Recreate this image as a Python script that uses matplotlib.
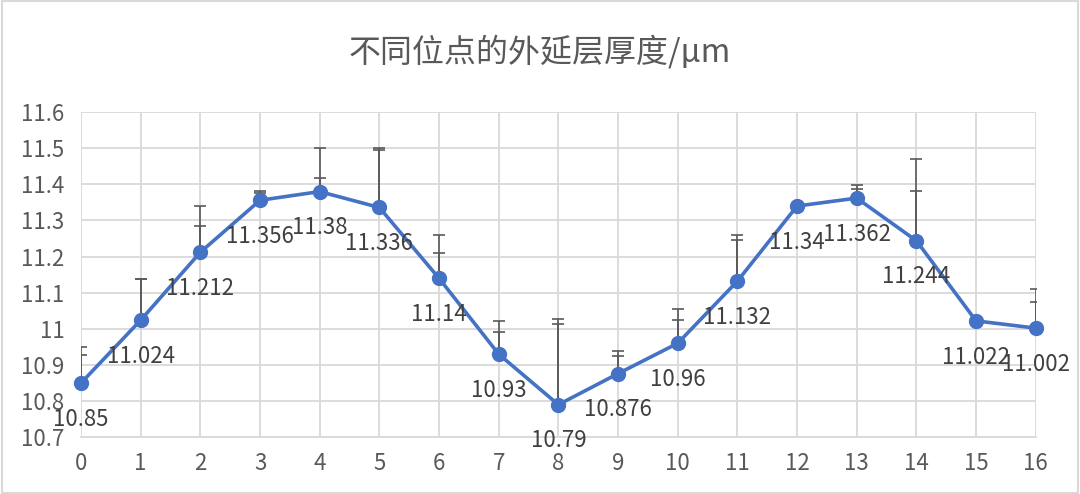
import matplotlib
matplotlib.use("Agg")
import matplotlib.pyplot as plt
from matplotlib.patches import Rectangle
import numpy as np

plt.rcParams['font.family'] = ['Noto Sans CJK SC', 'DejaVu Sans']

title = "不同位点的外延层厚度/μm"
positions = list(range(17))
thickness = [10.85, 11.024, 11.212, 11.356, 11.38, 11.336, 11.14, 10.93, 10.79,
             10.876, 10.96, 11.132, 11.34, 11.362, 11.244, 11.022, 11.002]
labels = ["10.85", "11.024", "11.212", "11.356", "11.38", "11.336", "11.14", "10.93",
          "10.79", "10.876", "10.96", "11.132", "11.34", "11.362", "11.244", "11.022", "11.002"]
# upper error bar tops (two sets)
err_top_a = [10.949, 11.138, 11.34, 11.382, 11.502, 11.502, 11.261, 11.021, 11.026,
             10.938, 11.056, 11.259, 11.345, 11.398, 11.469, 11.027, 11.110]
err_top_b = [10.927, 11.138, 11.285, 11.377, 11.419, 11.495, 11.21, 10.99, 11.014,
             10.924, 11.024, 11.245, 11.343, 11.387, 11.382, 11.025, 11.075]
yticks = [10.7, 10.8, 10.9, 11.0, 11.1, 11.2, 11.3, 11.4, 11.5, 11.6]
ytick_labels = ["10.7", "10.8", "10.9", "11", "11.1", "11.2", "11.3", "11.4", "11.5", "11.6"]

fig = plt.figure(figsize=(10.8, 4.94), dpi=100)
fig.patches.append(Rectangle((0.002, 0.003), 0.996, 0.994, transform=fig.transFigure,
                             fill=False, edgecolor="#d9d9d9", linewidth=1.5))
ax = fig.add_axes([0.075, 0.115, 0.884, 0.658])

x = np.array(positions)
y = np.array(thickness)
up_a = np.array(err_top_a) - y
up_b = np.array(err_top_b) - y
zeros = np.zeros_like(y)

for up in (up_a, up_b):
    ax.errorbar(x, y, yerr=[zeros, up], fmt='none', ecolor="#595959",
                elinewidth=1.2, capsize=4.6, capthick=1.2, zorder=2)

ax.plot(x, y, color="#4472C4", linewidth=2.6, marker='o', markersize=10,
        zorder=4, clip_on=False)

for xi, yi, lab in zip(x, y, labels):
    ax.annotate(lab, (xi, yi), xytext=(0, -26), textcoords='offset points',
                ha='center', va='center', fontsize=16, color="#404040", zorder=5,
                annotation_clip=False, fontweight='light')

ax.set_xlim(0, 16)
ax.set_ylim(10.7, 11.6)
ax.set_xticks(positions)
ax.set_xticklabels([str(p) for p in positions])
ax.set_yticks(yticks)
ax.set_yticklabels(ytick_labels)
ax.grid(True, color="#d9d9d9", linewidth=1.3)
ax.set_axisbelow(True)
for s in ['top', 'right', 'left']:
    ax.spines[s].set_visible(False)
ax.spines['bottom'].set_color("#d9d9d9")
ax.spines['bottom'].set_linewidth(1.3)
ax.tick_params(axis='both', length=0, labelsize=16, labelcolor="#595959")
ax.tick_params(axis='x', pad=11)
ax.tick_params(axis='y', pad=12)
for t in ax.get_xticklabels() + ax.get_yticklabels():
    t.set_fontweight('light')

fig.text(0.5, 0.895, title, ha='center', va='center', fontsize=23, color="#595959",
         fontweight='light')

fig.savefig("out.png", dpi=100)
